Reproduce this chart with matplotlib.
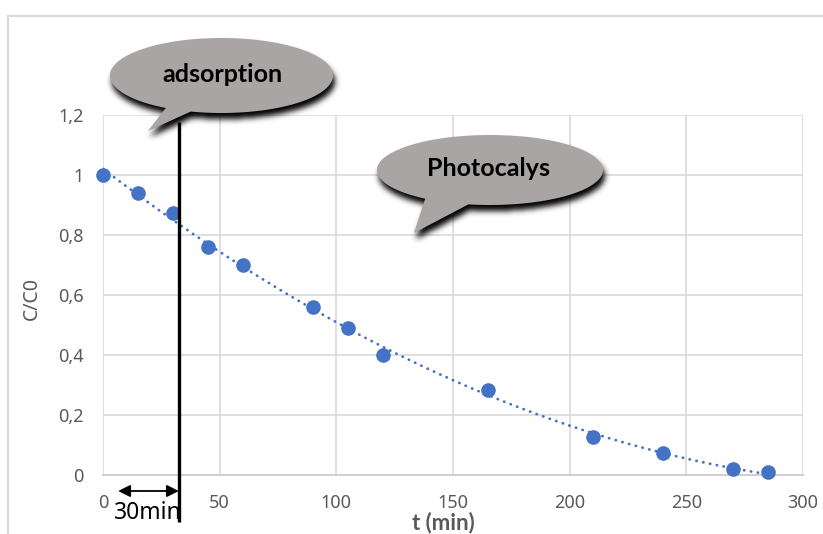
import numpy as np
import matplotlib
matplotlib.use("Agg")
import matplotlib.pyplot as plt
from matplotlib.path import Path
from matplotlib.patches import PathPatch, Rectangle
from matplotlib.transforms import blended_transform_factory

# Measured concentration ratio over time
t_min = [0, 15, 30, 45, 60, 90, 105, 120, 165, 210, 240, 270, 285]
c_ratio = [1.0, 0.94, 0.875, 0.76, 0.70, 0.56, 0.49, 0.40, 0.285, 0.128, 0.072, 0.02, 0.009]

x_ticks = [0, 50, 100, 150, 200, 250, 300]
y_ticks = [0, 0.2, 0.4, 0.6, 0.8, 1.0, 1.2]
y_tick_labels = ["0", "0,2", "0,4", "0,6", "0,8", "1", "1,2"]

adsorption_end = 32.5      # end of dark adsorption phase (min)
arrow_start = 6.5

W, H = 823, 534
BLUE = "#4472C4"
GRID = "#d9d9d9"
TXT = "#595959"
BALLOON = "#a9a5a5"

fig = plt.figure(figsize=(W / 100, H / 100), dpi=100)
fig.patch.set_facecolor("white")

# chart frame
frame = Rectangle((8 / W, -0.1), 1.2, 1 - 16 / H + 0.1, transform=fig.transFigure,
                  fill=False, edgecolor=GRID, lw=1.6)
fig.patches.append(frame)

ax = fig.add_axes([103 / W, (H - 475) / H, 700 / W, 360 / H])
ax.set_xlim(0, 300)
ax.set_ylim(0, 1.2)
ax.set_xticks(x_ticks)
ax.set_yticks(y_ticks)
ax.set_yticklabels(y_tick_labels)
ax.grid(True, color=GRID, lw=1.2)
ax.set_axisbelow(True)
for s in ["top", "right", "left"]:
    ax.spines[s].set_visible(False)
ax.spines["bottom"].set_color("#cfcfcf")
ax.spines["bottom"].set_linewidth(1.4)
ax.tick_params(length=0, labelsize=13, colors=TXT, pad=14)
for lab in ax.get_xticklabels() + ax.get_yticklabels():
    lab.set_fontfamily("Noto Sans")

# polynomial trend line (order 2) and data points
coef = np.polyfit(t_min, c_ratio, 2)
tt = np.linspace(min(t_min), max(t_min), 300)
ax.plot(tt, np.polyval(coef, tt), color=BLUE, lw=2.0,
        linestyle=(0, (0.1, 2.4)), dash_capstyle="round", zorder=3)
ax.plot(t_min, c_ratio, "o", color=BLUE, ms=9.5, zorder=4, clip_on=False)

ax.set_ylabel("C/C0", fontsize=14, color=TXT, fontfamily="Noto Sans")
ax.yaxis.set_label_coords(-0.088, 0.49)
ax.set_xlabel("t (min)", fontsize=16, color=TXT, fontweight="bold", fontfamily="Lato")
ax.xaxis.set_label_coords(0.486, -0.101)

# overlay in pixel coordinates for callouts
ov = fig.add_axes([0, 0, 1, 1])
ov.set_xlim(0, W)
ov.set_ylim(H, 0)
ov.axis("off")
ov.patch.set_visible(False)

def balloon(cx, cy, a, b, th_left, th_right, tip):
    th = np.radians(np.linspace(th_left, th_right + 360, 200))
    pts = np.column_stack([cx + a * np.cos(th), cy + b * np.sin(th)])
    pts = np.vstack([pts, [tip], pts[:1]])
    return Path(pts, closed=True)

shapes = [
    (balloon(221.5, 75.5, 111.5, 37.5, 120, 106, (148, 131)), "adsorption", (222, 74)),
    (balloon(490, 170, 113, 35, 125, 101, (414, 233)), "Photocalys", (489, 169)),
]

# soft drop shadow from a blurred mask
yy, xx = np.mgrid[0:H, 0:W]
grid_pts = np.column_stack([xx.ravel() + 0.5, yy.ravel() + 0.5])
mask = np.zeros(H * W)
for p, _, _ in shapes:
    shifted = Path(p.vertices + np.array([2.0, 6.0]), closed=True)
    mask = np.maximum(mask, shifted.contains_points(grid_pts).astype(float))
mask = mask.reshape(H, W)
k = np.exp(-0.5 * (np.arange(-8, 9) / 3.0) ** 2)
k /= k.sum()
mask = np.apply_along_axis(lambda r: np.convolve(r, k, mode="same"), 1, mask)
mask = np.apply_along_axis(lambda c: np.convolve(c, k, mode="same"), 0, mask)
rgba = np.zeros((H, W, 4))
rgba[..., 3] = np.clip(mask * 1.0, 0, 1)
ov.imshow(rgba, extent=(0, W, H, 0), zorder=1, interpolation="bilinear")

# adsorption boundary line and 30 min arrow
bt = blended_transform_factory(ax.transData, ov.transData)
ov.plot([adsorption_end, adsorption_end], [122, 522], color="black", lw=2.4,
        transform=bt, zorder=2, solid_capstyle="butt")
ov.annotate("", xy=(adsorption_end, 491), xytext=(arrow_start, 491),
            xycoords=bt, textcoords=bt,
            arrowprops=dict(arrowstyle="<|-|>", color="black", lw=1.3,
                            mutation_scale=18, shrinkA=0, shrinkB=0), zorder=2)
ov.text(19.0, 513, "30min", transform=bt, ha="center", va="center",
        fontsize=16.5, color="black", fontfamily="Noto Sans", zorder=2)

for p, label, (tx, ty) in shapes:
    ov.add_patch(PathPatch(p, facecolor=BALLOON, edgecolor="none", zorder=3))
    ov.text(tx, ty, label, ha="center", va="center", fontsize=18,
            fontweight="bold", fontfamily="Lato", color="black", zorder=4)

fig.savefig("out.png", dpi=100)
